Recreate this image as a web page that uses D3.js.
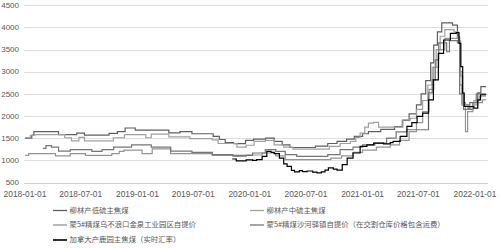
<!DOCTYPE html>
<html>
<head>
<meta charset="utf-8">
<script src="https://cdn.jsdelivr.net/npm/d3@7"></script>
<style>
  body { margin: 0; background: #fff; }
  svg text { font-family: "Liberation Sans", Arial, sans-serif; fill: #595959; }
  svg .legend text { font-family: "Noto Sans CJK SC", sans-serif; }
</style>
</head>
<body>
<script>
// series names (legend order)
const seriesNames = [
  '柳林产低硫主焦煤',
  '柳林产中硫主焦煤',
  '蒙5#精煤乌不浪口金泉工业园区自提价',
  '蒙5#精煤沙河驿镇自提价（在交割仓库价格包含运费）',
  '加拿大产鹿园主焦煤（实时汇率）'
]

// step prices: [change date, price]
const liulinLow = [['2018-01-01',1500],['2018-01-23',1570],['2018-01-30',1650],['2018-04-20',1580],['2018-06-18',1615],['2018-07-13',1570],['2018-10-01',1610],['2018-10-28',1650],['2018-11-22',1730],['2018-12-25',1680],['2019-04-13',1620],['2019-05-19',1650],['2019-06-27',1600],['2019-09-04',1540],['2019-09-24',1470],['2019-10-13',1400],['2019-11-09',1375],['2019-12-18',1450],['2020-01-13',1480],['2020-02-21',1500],['2020-03-20',1430],['2020-04-15',1350],['2020-05-10',1290],['2020-08-01',1320],['2020-09-10',1380],['2020-10-10',1430],['2020-11-10',1480],['2020-12-05',1540],['2021-01-01',1600],['2021-01-20',1650],['2021-03-01',1700],['2021-04-15',1760],['2021-05-10',1900],['2021-06-01',2050],['2021-06-25',2250],['2021-07-10',2500],['2021-07-25',2800],['2021-08-10',3200],['2021-08-20',3600],['2021-09-01',3900],['2021-09-15',4100],['2021-10-20',4050],['2021-11-05',3760],['2021-11-12',2700],['2021-11-20',2250],['2021-12-10',2150],['2021-12-25',2300],['2022-01-10',2520],['2022-01-20',2665],['2022-02-06',2665]]

const liulinMid = [['2018-01-01',1510],['2018-01-18',1560],['2018-02-01',1580],['2018-05-10',1510],['2018-06-01',1440],['2018-06-25',1520],['2018-07-13',1440],['2018-10-15',1510],['2018-11-20',1580],['2019-01-28',1510],['2019-02-15',1590],['2019-04-13',1530],['2019-06-20',1490],['2019-09-01',1460],['2019-09-20',1380],['2019-11-20',1300],['2019-12-20',1340],['2020-01-15',1430],['2020-02-20',1450],['2020-03-20',1350],['2020-04-20',1300],['2020-05-20',1255],['2020-09-15',1315],['2020-10-20',1380],['2020-11-22',1430],['2020-12-10',1520],['2020-12-24',1615],['2021-01-08',1750],['2021-01-20',1840],['2021-02-05',1855],['2021-02-22',1750],['2021-05-12',1915],['2021-06-05',1950],['2021-06-25',2150],['2021-07-15',2350],['2021-08-01',2700],['2021-08-15',3100],['2021-08-28',3500],['2021-09-10',3800],['2021-09-25',3950],['2021-10-25',3900],['2021-11-08',3700],['2021-11-15',2900],['2021-11-22',2250],['2021-12-10',2200],['2021-12-28',2350],['2022-01-15',2450],['2022-02-06',2450]]

const mongolWubulang = [['2018-01-01',1110],['2018-01-13',1150],['2018-04-10',1100],['2018-05-28',1150],['2018-07-16',1110],['2018-10-10',1150],['2018-11-03',1200],['2018-11-18',1230],['2019-01-16',1150],['2019-02-18',1260],['2019-04-19',1150],['2019-09-01',1110],['2019-11-07',1090],['2019-12-20',1120],['2020-02-10',1165],['2020-03-25',1100],['2020-04-25',1015],['2020-09-20',1050],['2020-10-25',1100],['2020-12-01',1180],['2021-01-01',1230],['2021-02-15',1300],['2021-04-01',1350],['2021-05-01',1450],['2021-06-01',1650],['2021-06-25',1850],['2021-07-15',2100],['2021-08-05',2600],['2021-08-20',3100],['2021-09-05',3500],['2021-09-25',3750],['2021-11-05',3800],['2021-11-12',3000],['2021-11-20',2300],['2021-12-01',1650],['2021-12-08',2100],['2021-12-25',2250],['2022-01-10',2300],['2022-01-25',2365],['2022-02-06',2365]]

const mongolShahe = [['2018-02-28',1270],['2018-03-10',1330],['2018-03-28',1300],['2018-04-20',1210],['2018-05-28',1240],['2018-08-06',1200],['2018-09-08',1240],['2018-10-16',1300],['2018-12-13',1350],['2019-02-15',1300],['2019-04-19',1210],['2019-06-27',1180],['2019-09-01',1130],['2019-11-07',1110],['2020-01-10',1165],['2020-02-20',1240],['2020-03-25',1200],['2020-04-25',1130],['2020-06-01',1090],['2020-09-10',1130],['2020-10-20',1240],['2020-12-01',1300],['2021-01-01',1350],['2021-02-10',1390],['2021-03-20',1500],['2021-04-20',1640],['2021-05-25',1690],['2021-08-03',2520],['2021-08-15',2815],['2021-08-25',3265],['2021-09-05',3650],['2021-10-01',3450],['2021-10-10',3700],['2021-11-05',3650],['2021-11-12',2500],['2021-11-25',2150],['2021-12-15',2300],['2022-01-05',2500],['2022-02-06',2500]]

const canadaLuyuan = [['2019-11-05',1030],['2019-11-18',990],['2019-12-20',1010],['2020-01-10',1000],['2020-01-23',1015],['2020-02-10',1090],['2020-02-25',1200],['2020-03-10',1180],['2020-03-20',1150],['2020-04-06',1050],['2020-04-20',920],['2020-05-01',865],['2020-05-15',775],['2020-05-25',740],['2020-06-10',770],['2020-06-20',745],['2020-07-05',760],['2020-07-23',735],['2020-08-06',715],['2020-08-20',740],['2020-09-01',780],['2020-09-12',830],['2020-09-28',800],['2020-10-10',780],['2020-10-27',905],['2020-11-12',1050],['2020-12-01',1165],['2020-12-24',1315],['2021-01-15',1350],['2021-02-06',1390],['2021-03-10',1370],['2021-04-01',1400],['2021-04-10',1430],['2021-05-03',1540],['2021-05-25',1765],['2021-06-10',1850],['2021-06-27',1990],['2021-07-15',2065],['2021-08-03',2365],['2021-08-19',2815],['2021-09-04',3415],['2021-09-21',3715],['2021-10-13',3865],['2021-11-01',3880],['2021-11-10',3640],['2021-11-16',3115],['2021-11-22',2515],['2021-11-27',2215],['2021-12-28',2180],['2022-01-10',2365],['2022-01-19',2480],['2022-02-06',2480]]

const xTickLabels = ['2018-01-01','2018-07-01','2019-01-01','2019-07-01','2020-01-01','2020-07-01','2021-01-01','2021-07-01','2022-01-01']
const yTickValues = [500,1000,1500,2000,2500,3000,3500,4000,4500]

const allSeries = [liulinLow, liulinMid, mongolWubulang, mongolShahe, canadaLuyuan]
const colors = ['#5f5f5f', '#a0a0a0', '#949494', '#767676', '#000000']
const widths = [1.2, 1.2, 1.2, 1.2, 1.2]

const width = 500
const height = 248
const parse = d3.timeParse('%Y-%m-%d')

const svg = d3.select('body').append('svg')
  .attr('width', width)
  .attr('height', height)

const x = d3.scaleTime()
  .domain([parse('2018-01-01'), parse('2022-01-01')])
  .range([25, 475])

const y = d3.scaleLinear()
  .domain([500, 4500])
  .range([182.5, 5.2])

// horizontal gridlines
svg.append('g')
  .selectAll('line')
  .data(yTickValues)
  .enter()
  .append('line')
  .attr('x1', 24)
  .attr('x2', 488)
  .attr('y1', d => Math.round(y(d)) + 0.5)
  .attr('y2', d => Math.round(y(d)) + 0.5)
  .attr('stroke', d => d === 500 ? '#cfcfcf' : '#dedede')
  .attr('stroke-width', 1)

// y labels
svg.append('g')
  .selectAll('text')
  .data(yTickValues)
  .enter()
  .append('text')
  .attr('x', 19)
  .attr('y', d => y(d))
  .attr('dy', '0.35em')
  .attr('text-anchor', 'end')
  .style('font-size', '8px')
  .text(d => d)

// x labels
svg.append('g')
  .selectAll('text')
  .data(xTickLabels)
  .enter()
  .append('text')
  .attr('x', d => x(parse(d)))
  .attr('y', 196.5)
  .attr('text-anchor', 'middle')
  .style('font-size', '8.4px')
  .text(d => d)

// price lines, step shaped
const line = d3.line()
  .x(d => x(parse(d[0])))
  .y(d => y(d[1]))
  .curve(d3.curveStepAfter)

svg.append('g')
  .selectAll('path')
  .data(allSeries)
  .enter()
  .append('path')
  .attr('d', d => line(d))
  .attr('fill', 'none')
  .attr('stroke', (d, i) => colors[i])
  .attr('stroke-width', (d, i) => widths[i])
  .attr('stroke-linejoin', 'miter')

// legend, two columns
const legendPos = [[53, 210], [250, 210], [53, 224.5], [250, 224.5], [53, 239.5]]
const legend = svg.append('g').attr('class', 'legend')
  .selectAll('g')
  .data(seriesNames)
  .enter()
  .append('g')
  .attr('transform', (d, i) => 'translate(' + legendPos[i][0] + ',' + legendPos[i][1] + ')')

legend.append('line')
  .attr('x1', 0)
  .attr('x2', 14)
  .attr('y1', 0.5)
  .attr('y2', 0.5)
  .attr('stroke', (d, i) => colors[i])
  .attr('stroke-width', (d, i) => i === 4 ? 1.6 : 1.3)

legend.append('text')
  .attr('x', 16.5)
  .attr('y', 0)
  .attr('dy', '0.35em')
  .style('font-size', '7.4px')
  .text(d => d)
</script>
</body>
</html>
